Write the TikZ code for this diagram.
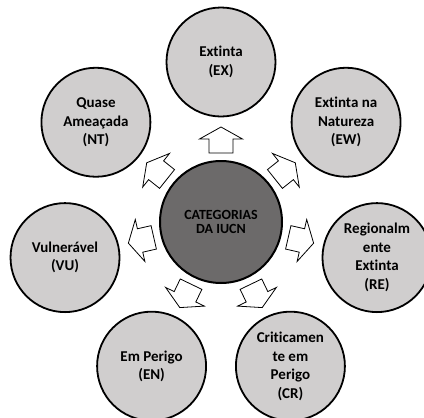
\documentclass[tikz,border=0pt]{standalone}
\usepackage{fontspec}
\setmainfont{Carlito}[BoldFont={Carlito Bold},Ligatures=CommonOff]
\definecolor{satfill}{RGB}{208,206,206}
\definecolor{cenfill}{RGB}{108,106,106}
\begin{document}
\begin{tikzpicture}[x=1pt,y=1pt,
  sat/.style={circle,draw=black,line width=1.8pt,fill=satfill,minimum size=109pt,inner sep=0pt,
    align=center,text=black,font=\fontsize{15}{18.5}\selectfont\bfseries},
  cen/.style={circle,draw=black,line width=2pt,fill=cenfill,minimum size=122pt,inner sep=0pt,
    align=center,text=black,font=\fontsize{14}{14.5}\selectfont\bfseries},
  blk/.style={draw=black,line width=0.8pt,fill=white,line join=miter}]
\useasboundingbox (0,0) rectangle (424,-418);
\node[cen] (c) at (221,-222) {CATEGORIAS\\DA IUCN};
\node[sat] (ex) at ([shift={(90:160)}]c) {Extinta\\(EX)};
\node[sat] (ew) at ([shift={(38.57:160)}]c) {Extinta na\\Natureza\\(EW)};
\node[sat] (re) at ([shift={(-12.86:160)}]c) {Regionalm\\ente\\Extinta\\(RE)};
\node[sat] (cr) at ([shift={(-64.29:160)}]c) {Criticamen\\te em\\Perigo\\(CR)};
\node[sat] (en) at ([shift={(-115.71:160)}]c) {Em Perigo\\(EN)};
\node[sat] (vu) at ([shift={(-167.14:160)}]c) {Vulnerável\\(VU)};
\node[sat] (nt) at ([shift={(141.43:160)}]c) {Quase\\Ameaçada\\(NT)};
\foreach \a in {90,38.57,-12.86,-64.29,-115.71,-167.14,141.43}{
  \draw[blk,shift={(221,-222)},rotate=\a,shift={(82,0)}]
    (-13,-12) -- (1,-12) -- (1,-21.5) -- (13,0) -- (1,21.5) -- (1,12) -- (-13,12) -- cycle;
}
\end{tikzpicture}
\end{document}
